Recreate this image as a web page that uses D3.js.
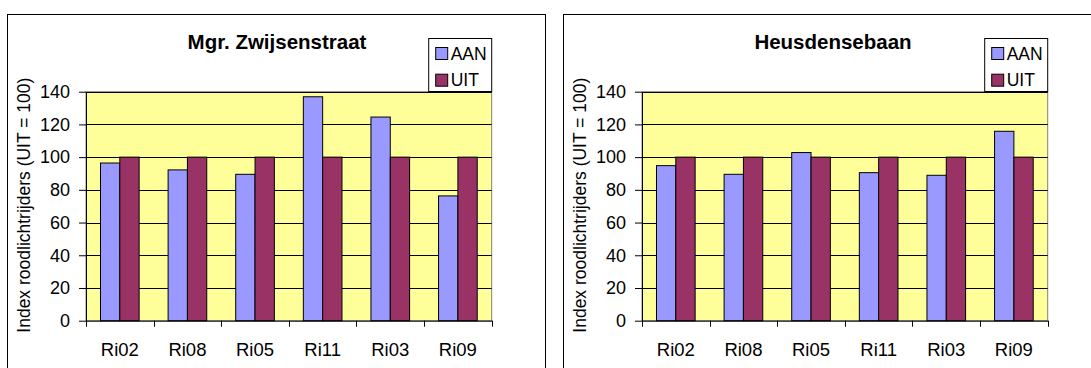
<!DOCTYPE html>
<html>
<head>
<meta charset="utf-8">
<script src="https://cdn.jsdelivr.net/npm/d3@7"></script>
<style>
  body { margin: 0; background: #fff; }
  svg { display: block; font-family: "Liberation Sans", Arial, sans-serif; }
</style>
</head>
<body>
<svg id="chart" width="1091" height="368"></svg>
<script>
const categories = ["Ri02", "Ri08", "Ri05", "Ri11", "Ri03", "Ri09"];
const series = ["AAN", "UIT"];
const titles = ["Mgr. Zwijsenstraat", "Heusdensebaan"];
const aanZwijsen = [96.4, 92.2, 89.5, 136.9, 124.5, 76.3];
const uitZwijsen = [100, 100, 100, 100, 100, 100];
const aanHeusden = [94.8, 89.5, 102.8, 90.5, 88.9, 115.8];
const uitHeusden = [100, 100, 100, 100, 100, 100];
const yTicks = [0, 20, 40, 60, 80, 100, 120, 140];
const yLabel = "Index roodlichtrijders (UIT = 100)";

const colors = { AAN: "#9999FF", UIT: "#993366" };

const svg = d3.select("#chart");

function drawPanel(offsetX, title, aan, uit) {
    const g = svg.append("g").attr("transform", `translate(${offsetX},0)`);

    const left = 86, right = 491.7, top = 91.7, bottom = 320.7;

    // chart frame (runs off the bottom like in the picture)
    g.append("rect")
        .attr("x", 7.5).attr("y", 14.5)
        .attr("width", 538).attr("height", 400)
        .attr("fill", "#fff").attr("stroke", "#000").attr("stroke-width", 1);

    const x = d3.scaleBand().domain(categories).range([left, right]);
    const x1 = d3.scaleBand().domain(series).range([0, x.bandwidth()])
        .paddingInner(0).paddingOuter(0.75);
    const y = d3.scaleLinear().domain([0, 140]).range([bottom, top]);

    // plot area
    g.append("rect")
        .attr("x", left).attr("y", top)
        .attr("width", right - left).attr("height", bottom - top)
        .attr("fill", "#FFFF99").attr("stroke", "#808080");

    // gridlines
    g.selectAll(".grid")
        .data(yTicks.filter(d => d > 0))
        .enter()
        .append("line")
        .attr("x1", left).attr("x2", right)
        .attr("y1", d => Math.round(y(d)) + 0.5)
        .attr("y2", d => Math.round(y(d)) + 0.5)
        .attr("stroke", "#000");

    // bars
    const rows = categories.map((c, i) => ({ cat: c, AAN: aan[i], UIT: uit[i] }));
    const groups = g.selectAll(".cat")
        .data(rows)
        .enter()
        .append("g")
        .attr("transform", d => `translate(${x(d.cat)},0)`);
    groups.selectAll("rect")
        .data(d => series.map(s => ({ key: s, value: d[s] })))
        .enter()
        .append("rect")
        .attr("x", d => x1(d.key))
        .attr("y", d => y(d.value))
        .attr("width", x1.bandwidth())
        .attr("height", d => y(0) - y(d.value))
        .attr("fill", d => colors[d.key])
        .attr("stroke", "#000")
        .attr("stroke-width", 1);

    // y axis
    const yAxis = g.append("g")
        .attr("transform", `translate(${left},0)`)
        .call(d3.axisLeft(y).tickValues(yTicks).tickSize(7).tickSizeOuter(0).tickPadding(9));
    yAxis.selectAll("text").attr("font-size", "18px").attr("fill", "#000")
        .attr("font-family", "Liberation Sans, Arial, sans-serif");
    yAxis.selectAll("line, path").attr("stroke", "#000");

    // x axis: labels centred, ticks on the band edges
    const xAxis = g.append("g")
        .attr("transform", `translate(0,${bottom})`)
        .call(d3.axisBottom(x).tickSize(0).tickPadding(22));
    xAxis.selectAll("text").attr("font-size", "18.5px").attr("fill", "#000")
        .attr("font-family", "Liberation Sans, Arial, sans-serif");
    xAxis.select(".domain").attr("stroke", "#000");
    const edges = categories.map(c => x(c)).concat([right]);
    g.selectAll(".xtick")
        .data(edges)
        .enter()
        .append("line")
        .attr("x1", d => Math.round(d) + 0.5).attr("x2", d => Math.round(d) + 0.5)
        .attr("y1", bottom).attr("y2", bottom + 6)
        .attr("stroke", "#000");

    // axis title
    g.append("text")
        .attr("transform", `translate(30,${(top + bottom) / 2 - 1}) rotate(-90)`)
        .attr("text-anchor", "middle")
        .attr("font-size", "17.5px")
        .text(yLabel);

    // chart title
    g.append("text")
        .attr("x", 277)
        .attr("y", 48.5)
        .attr("text-anchor", "middle")
        .attr("font-size", "20.5px")
        .attr("font-weight", "bold")
        .text(title);

    // legend
    const lg = g.append("g").attr("transform", `translate(${right - 63},38.5)`);
    lg.append("rect")
        .attr("width", 63).attr("height", 53)
        .attr("fill", "#fff").attr("stroke", "#000");
    series.forEach((s, i) => {
        lg.append("rect")
            .attr("x", 7).attr("y", 9 + i * 26.7)
            .attr("width", 12).attr("height", 12)
            .attr("fill", colors[s]).attr("stroke", "#000");
        lg.append("text")
            .attr("x", 22).attr("y", 21 + i * 26.7)
            .attr("font-size", "17.5px")
            .text(s);
    });
}

drawPanel(0, titles[0], aanZwijsen, uitZwijsen);
drawPanel(556, titles[1], aanHeusden, uitHeusden);
</script>
</body>
</html>
